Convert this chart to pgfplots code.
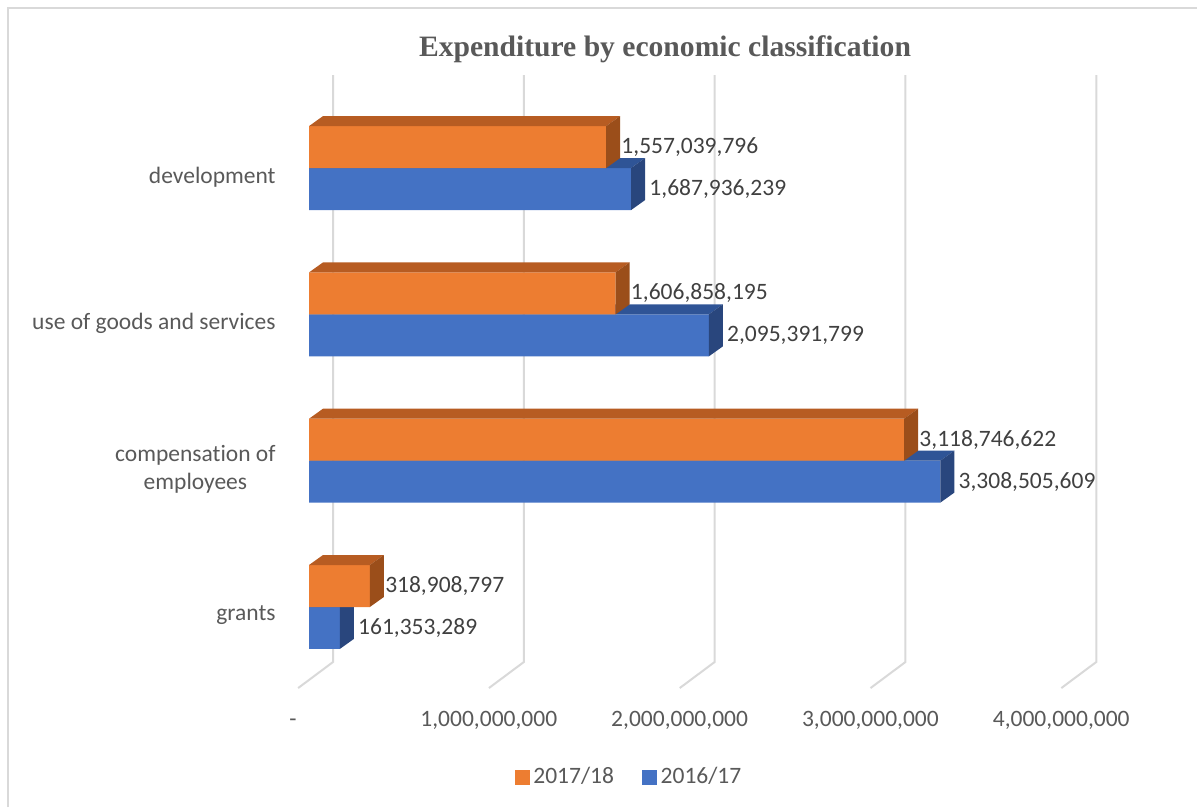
\documentclass[border=0pt]{standalone}
\usepackage{pgfplots}
\pgfplotsset{compat=1.18}
\usepackage{fontspec}
\setmainfont{Carlito}[Ligatures={NoCommon}]
\newfontfamily\titlefont{Liberation Serif}
\definecolor{orF}{RGB}{237,125,49}
\definecolor{orT}{RGB}{183,92,34}
\definecolor{orS}{RGB}{155,78,26}
\definecolor{blF}{RGB}{68,114,196}
\definecolor{blT}{RGB}{47,84,150}
\definecolor{blS}{RGB}{41,70,125}
\definecolor{txt}{RGB}{89,89,89}
\definecolor{lbl}{RGB}{64,64,64}
\definecolor{grd}{RGB}{217,217,217}
\begin{document}
\begin{tikzpicture}
\path[use as bounding box] (0pt,0pt) rectangle (598.5pt,-403.5pt);
\draw[grd, line width=0.75pt] (4pt,-403.5pt) -- (4pt,-4pt) -- (598.5pt,-4pt);
\node[font=\titlefont\bfseries\fontsize{14.8}{17}\selectfont, text=txt] at (332.5pt,-24.5pt) {Expenditure by economic classification};
\begin{axis}[
 at={(154.5pt,-303.5pt)}, anchor=origin,
 x=95.4pt, y=73.15pt,
 xmin=-0.173, xmax=4.3, ymin=-0.6, ymax=3.7,
 clip=false,
 axis line style={draw=none},
 major tick length=0pt,
 tick style={draw=none},
 xtick={-0.084,0.9423,1.9423,2.9423,3.9423},
 xticklabels={{-},{1,000,000,000},{2,000,000,000},{3,000,000,000},{4,000,000,000}},
 xticklabel style={anchor=base, yshift=-16pt, font=\fontsize{11.75}{14}\selectfont, text=txt},
 ytick={-0.0547,0.943,1.941,2.939},
 yticklabels={{grants},{compensation of\\employees},{use of goods and services},{development}},
 yticklabel style={anchor=east, align=center, inner sep=0pt, font=\fontsize{11.75}{14}\selectfont, text=txt},
 legend columns=2,
 legend style={draw=none, fill=none, at={(axis cs:1.682,-1.162)}, anchor=center,
   font=\fontsize{11.75}{14}\selectfont, text=txt,
   /tikz/every even column/.append style={column sep=12pt}},
]
\addlegendimage{legend image code/.code={\fill[orF] (0pt,-3.5pt) rectangle (7pt,3.5pt);}}
\addlegendentry{2017/18}
\addlegendimage{legend image code/.code={\fill[blF] (0pt,-3.5pt) rectangle (7pt,3.5pt);}}
\addlegendentry{2016/17}

% gridlines (back wall + floor)
\addplot[grd, line width=1pt, forget plot] coordinates {(0.126,3.636) (0.126,-0.376) (-0.057,-0.554)};
\addplot[grd, line width=1pt, forget plot] coordinates {(1.126,3.636) (1.126,-0.376) (0.943,-0.554)};
\addplot[grd, line width=1pt, forget plot] coordinates {(2.126,3.636) (2.126,-0.376) (1.943,-0.554)};
\addplot[grd, line width=1pt, forget plot] coordinates {(3.126,3.636) (3.126,-0.376) (2.943,-0.554)};
\addplot[grd, line width=1pt, forget plot] coordinates {(4.126,3.636) (4.126,-0.376) (3.943,-0.554)};

% 2016/17 (blue)
\addplot[xbar, bar width=0.287, bar shift=-0.1435, fill=blF, draw=none, forget plot]
  coordinates {(0.161353289,0) (3.308505609,1) (2.095391799,2) (1.687936239,3)};
\addplot[fill=blT, draw=none, forget plot] coordinates {(0,3) (1.687936,3) (1.761336,3.0684) (0.0734,3.0684)} -- cycle;
\addplot[fill=blS, draw=none, forget plot] coordinates {(1.687936,2.713) (1.687936,3) (1.761336,3.0684) (1.761336,2.7814)} -- cycle;
\addplot[fill=blT, draw=none, forget plot] coordinates {(0,2) (2.095392,2) (2.168792,2.0684) (0.0734,2.0684)} -- cycle;
\addplot[fill=blS, draw=none, forget plot] coordinates {(2.095392,1.713) (2.095392,2) (2.168792,2.0684) (2.168792,1.7814)} -- cycle;
\addplot[fill=blT, draw=none, forget plot] coordinates {(0,1) (3.308506,1) (3.381906,1.0684) (0.0734,1.0684)} -- cycle;
\addplot[fill=blS, draw=none, forget plot] coordinates {(3.308506,0.713) (3.308506,1) (3.381906,1.0684) (3.381906,0.7814)} -- cycle;
\addplot[fill=blT, draw=none, forget plot] coordinates {(0,0) (0.161353,0) (0.234753,0.0684) (0.0734,0.0684)} -- cycle;
\addplot[fill=blS, draw=none, forget plot] coordinates {(0.161353,-0.287) (0.161353,0) (0.234753,0.0684) (0.234753,-0.2186)} -- cycle;

% 2017/18 (orange)
\addplot[xbar, bar width=0.287, bar shift=0.1435, fill=orF, draw=none, forget plot]
  coordinates {(0.318908797,0) (3.118746622,1) (1.606858195,2) (1.557039796,3)};
\addplot[fill=orT, draw=none, forget plot] coordinates {(0,3.287) (1.557040,3.287) (1.630440,3.3554) (0.0734,3.3554)} -- cycle;
\addplot[fill=orS, draw=none, forget plot] coordinates {(1.557040,3) (1.557040,3.287) (1.630440,3.3554) (1.630440,3.0684)} -- cycle;
\addplot[fill=orT, draw=none, forget plot] coordinates {(0,2.287) (1.606858,2.287) (1.680258,2.3554) (0.0734,2.3554)} -- cycle;
\addplot[fill=orS, draw=none, forget plot] coordinates {(1.606858,2) (1.606858,2.287) (1.680258,2.3554) (1.680258,2.0684)} -- cycle;
\addplot[fill=orT, draw=none, forget plot] coordinates {(0,1.287) (3.118747,1.287) (3.192147,1.3554) (0.0734,1.3554)} -- cycle;
\addplot[fill=orS, draw=none, forget plot] coordinates {(3.118747,1) (3.118747,1.287) (3.192147,1.3554) (3.192147,1.0684)} -- cycle;
\addplot[fill=orT, draw=none, forget plot] coordinates {(0,0.287) (0.318909,0.287) (0.392309,0.3554) (0.0734,0.3554)} -- cycle;
\addplot[fill=orS, draw=none, forget plot] coordinates {(0.318909,0) (0.318909,0.287) (0.392309,0.3554) (0.392309,0.0684)} -- cycle;

% data labels
\addplot[draw=none, mark=none, forget plot, point meta=explicit symbolic, nodes near coords,
  every node near coord/.append style={anchor=west, xshift=9pt, inner sep=0pt, font=\fontsize{11.75}{14}\selectfont, text=lbl}]
  coordinates {(0.161353289,-0.1435) [161,353,289] (3.308505609,0.8565) [3,308,505,609]
               (2.095391799,1.8565) [2,095,391,799] (1.687936239,2.8565) [1,687,936,239]};
\addplot[draw=none, mark=none, forget plot, point meta=explicit symbolic, nodes near coords,
  every node near coord/.append style={anchor=west, xshift=7.5pt, inner sep=0pt, font=\fontsize{11.75}{14}\selectfont, text=lbl}]
  coordinates {(0.318908797,0.1435) [318,908,797] (3.118746622,1.1435) [3,118,746,622]
               (1.606858195,2.1435) [1,606,858,195] (1.557039796,3.1435) [1,557,039,796]};
\end{axis}
\end{tikzpicture}
\end{document}
